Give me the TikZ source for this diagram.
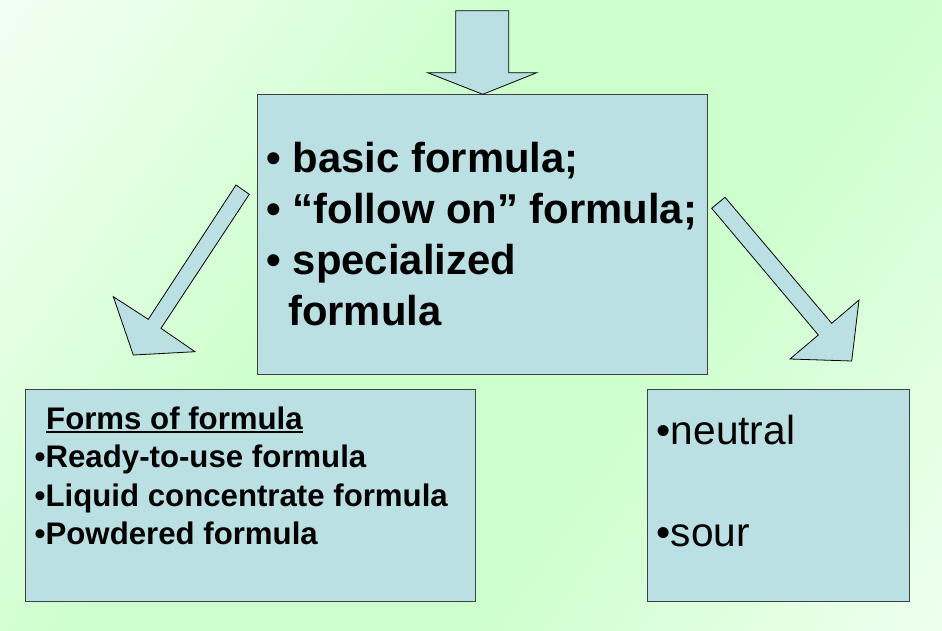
\documentclass[tikz,border=0pt]{standalone}
\usepackage{fontspec}
\setmainfont{Liberation Sans}
\usetikzlibrary{positioning}
\definecolor{boxblue}{RGB}{187,224,227}
\definecolor{bggreen}{RGB}{204,255,204}
\pgfdeclarehorizontalshading{bgshade}{100bp}{color(0bp)=(white);color(22bp)=(white!60!bggreen);color(42bp)=(bggreen);color(60bp)=(bggreen);color(82bp)=(white!60!bggreen);color(100bp)=(white)}
\tikzset{box/.style={draw=black!75,fill=boxblue,line width=0.9pt,inner sep=0pt,anchor=north west},
  blockarrow/.style={draw=black,fill=boxblue,line width=0.8pt,line join=miter},
  bigtxt/.style={anchor=base west,inner sep=0pt,font=\fontsize{41.8}{51}\selectfont\bfseries},
  smalltxt/.style={anchor=base west,inner sep=0pt,font=\fontsize{31.2}{38}\selectfont\bfseries},
  plaintxt/.style={anchor=base west,inner sep=0pt,font=\fontsize{40.6}{48}\selectfont}}
\begin{document}
\begin{tikzpicture}[x=1pt,y=1pt]
  \useasboundingbox (0,0) rectangle (942,-630);
  \fill[shading=bgshade,shading angle=-35] (0,0) rectangle (942,-630);
  \node[box,minimum width=450pt,minimum height=279.4pt] (mid) at (257.3,-94.3) {};
  \node[box,minimum width=450pt,minimum height=211.4pt] (forms) at (25,-389.3) {};
  \node[box,minimum width=262.3pt,minimum height=211.7pt] (taste) at (646.7,-389) {};
  \draw[blockarrow] (455.7,-10.7)--(508.7,-10.7)--(508.7,-72.7)--(536.7,-72.7)--(mid.north)--(427.7,-72.7)--(455.7,-72.7)--cycle;
  \draw[blockarrow] (236,-185)--(249.3,-194.3)--(161,-328.3)--(195,-351.7)--(133.3,-355)--(113.3,-296.7)--(148.3,-319.3)--cycle;
  \draw[blockarrow] (725,-197.3)--(831.7,-323.3)--(859,-300)--(851.7,-361)--(790,-359)--(818.3,-335)--(711.7,-208.3)--cycle;
  \node[bigtxt] (basic) at (266.5,-172.3) {\textbullet\ basic formula;};
  \node[bigtxt] (follow) at (266.5,-223.3) {\textbullet\ “follow on” formula;};
  \node[bigtxt] (special) at (266.5,-274.3) {\textbullet\ specialized};
  \node[bigtxt] (specialb) at (288,-325.3) {formula};
  \node[smalltxt] (formshead) at (46,-429.3) {Forms of formula};
  \draw[line width=1.8pt] ([yshift=-2.6pt]formshead.base west)--([yshift=-2.6pt]formshead.base east);
  \node[smalltxt] (ready) at (34.5,-467.3) {\textbullet Ready-to-use formula};
  \node[smalltxt] (liquid) at (34.5,-506.7) {\textbullet Liquid concentrate formula};
  \node[smalltxt] (powder) at (34.5,-544.3) {\textbullet Powdered formula};
  \node[plaintxt] (neutral) at (656.5,-444) {\textbullet neutral};
  \node[plaintxt] (sour) at (656.5,-546.7) {\textbullet sour};
\end{tikzpicture}
\end{document}
